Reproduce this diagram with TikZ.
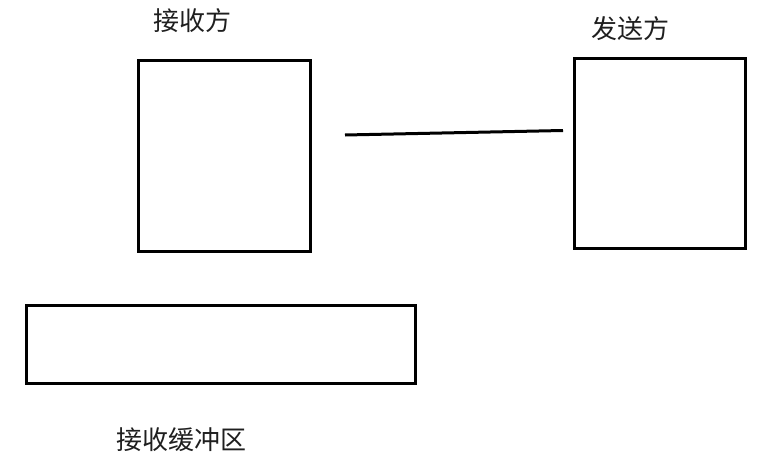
\documentclass[tikz,border=0pt]{standalone}
\usepackage{fontspec}
\newfontfamily\cjk{Noto Sans CJK SC}
\begin{document}
\begin{tikzpicture}[x=1pt,y=-1pt,
  boxst/.style={draw=black,line width=3pt,inner sep=0pt},
  lbl/.style={font=\cjk\fontsize{26}{31}\selectfont,text=black!88,inner sep=0pt}]
\useasboundingbox (0,0) rectangle (779,463);
\node[boxst,minimum width=172pt,minimum height=191pt] (recv) at (224.2,155.5) {};
\node[boxst,minimum width=171pt,minimum height=190.3pt] (send) at (659.7,153.4) {};
\node[boxst,minimum width=389pt,minimum height=78pt] (buf) at (220.7,344.5) {};
\node[lbl] (recvl) at (192,21) {接收方};
\node[lbl] (sendl) at (630,28.5) {发送方};
\node[lbl] (bufl) at (181,440) {接收缓冲区};
\coordinate (la) at (345,135);
\coordinate (lb) at (563,130.5);
\draw[line width=3pt] (la) -- (lb);
\end{tikzpicture}
\end{document}
